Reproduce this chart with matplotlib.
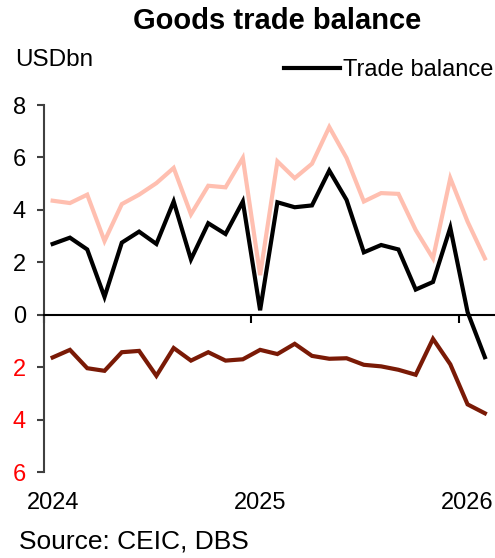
import matplotlib.pyplot as plt
import numpy as np

plt.rcParams['font.family'] = ['Liberation Sans', 'DejaVu Sans']

# monthly, Jan 2024 .. Feb 2026
months = np.arange(26)
exports = [4.35, 4.26, 4.58, 2.81, 4.22, 4.58, 5.02, 5.60, 3.83, 4.92, 4.86, 5.98,
           1.51, 5.85, 5.21, 5.76, 7.16, 5.98, 4.32, 4.64, 4.61, 3.23, 2.15, 5.21,
           3.55, 2.15]
imports = [-1.63, -1.34, -2.04, -2.14, -1.43, -1.38, -2.33, -1.27, -1.75, -1.43, -1.75, -1.70,
           -1.34, -1.50, -1.11, -1.57, -1.68, -1.66, -1.91, -1.97, -2.10, -2.29, -0.92, -1.89,
           -3.42, -3.76]
balance = [2.70, 2.94, 2.49, 0.68, 2.75, 3.17, 2.70, 4.32, 2.11, 3.49, 3.08, 4.32,
           0.17, 4.29, 4.10, 4.17, 5.50, 4.38, 2.38, 2.66, 2.49, 0.96, 1.25, 3.32,
           0.10, -1.62]
year_labels = ['2024', '2025', '2026']
year_starts = [0, 12, 24]

fig = plt.figure(figsize=(4.95, 5.58), dpi=100)
ax = fig.add_axes([0.0889, 0.1541, 0.9081, 0.6577])

x = months + 0.5
ax.plot(x, exports, color='#FFBFB0', lw=3.0, solid_joinstyle='miter')
ax.plot(x, imports, color='#7A1A06', lw=3.0, solid_joinstyle='miter')
ax.plot(x, balance, color='black', lw=3.0, solid_joinstyle='miter', label='Trade balance')

ax.set_xlim(0, 26)
ax.set_ylim(-6, 8)

# axes styling
for s in ['top', 'right']:
    ax.spines[s].set_visible(False)
ax.spines['bottom'].set_position(('data', 0))
ax.spines['bottom'].set_linewidth(1.5)
ax.spines['left'].set_linewidth(1.5)
ax.spines['left'].set_color('#404040')

ax.set_xticks(year_starts)
ax.set_xticklabels([])
ax.tick_params(axis='x', direction='out', length=6, width=1.5)
for lab, st in zip(year_labels, year_starts):
    ax.text(st + 0.5, -0.055, lab, transform=ax.get_xaxis_transform(),
            ha='center', va='top', fontsize=17)

yt = np.arange(-6, 9, 2)
ax.set_yticks(yt)
ax.set_yticklabels([str(abs(v)) for v in yt], fontsize=17)
for lab, v in zip(ax.get_yticklabels(), yt):
    lab.set_color('red' if v < 0 else 'black')
ax.tick_params(axis='y', direction='out', length=5, width=1.5, color='#404040', pad=8)

fig.text(0.56, 0.963, 'Goods trade balance', ha='center', va='center',
         fontsize=21, fontweight='bold')
fig.text(0.03, 0.892, 'USDbn', ha='left', va='center', fontsize=17.5)
fig.text(0.038, 0.008, 'Source: CEIC, DBS', ha='left', va='bottom', fontsize=19)

ax.legend(loc='center right', bbox_to_anchor=(0.996, 0.874), bbox_transform=fig.transFigure,
          frameon=False, fontsize=17, handlelength=2.4, handletextpad=0.1,
          borderpad=0, borderaxespad=0)

fig.savefig('out.png', dpi=100)
